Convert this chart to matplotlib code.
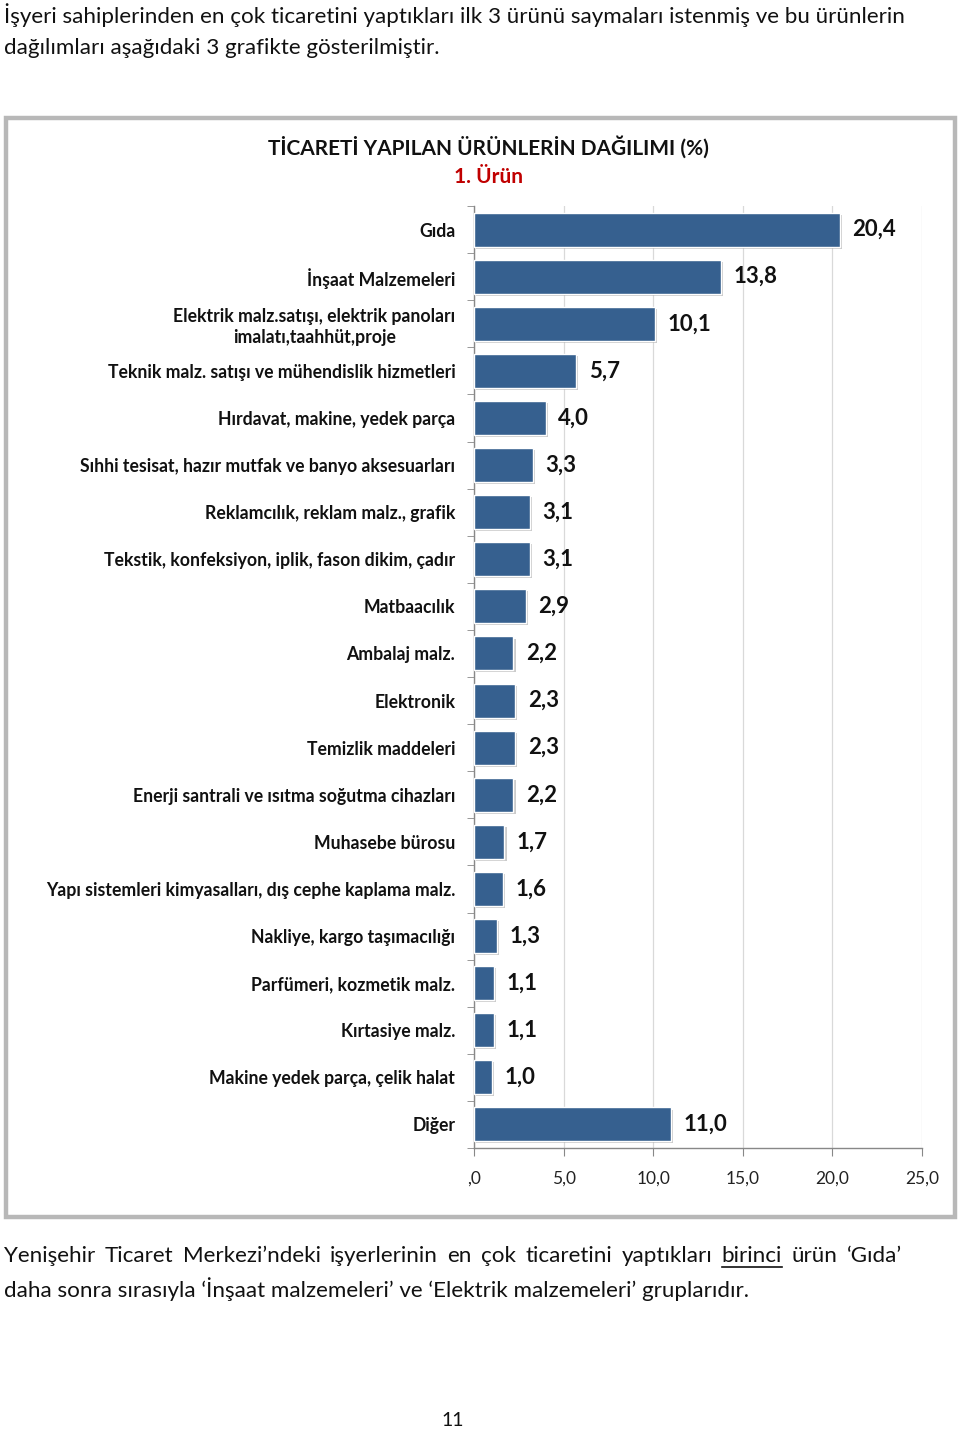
import matplotlib
matplotlib.use("Agg")
import matplotlib.pyplot as plt
from matplotlib.patches import Rectangle
import matplotlib.patheffects as pe
from matplotlib.ticker import FixedLocator

plt.rcParams['font.family'] = ['Lato', 'DejaVu Sans']

categories = [
    "Gıda",
    "İnşaat Malzemeleri",
    "Elektrik malz.satışı, elektrik panoları\nimalatı,taahhüt,proje",
    "Teknik malz. satışı ve mühendislik hizmetleri",
    "Hırdavat, makine, yedek parça",
    "Sıhhi tesisat, hazır mutfak ve banyo aksesuarları",
    "Reklamcılık, reklam malz., grafik",
    "Tekstik, konfeksiyon, iplik, fason dikim, çadır",
    "Matbaacılık",
    "Ambalaj malz.",
    "Elektronik",
    "Temizlik maddeleri",
    "Enerji santrali ve ısıtma soğutma cihazları",
    "Muhasebe bürosu",
    "Yapı sistemleri kimyasalları, dış cephe kaplama malz.",
    "Nakliye, kargo taşımacılığı",
    "Parfümeri, kozmetik malz.",
    "Kırtasiye malz.",
    "Makine yedek parça, çelik halat",
    "Diğer",
]
values = [20.4, 13.8, 10.1, 5.7, 4.0, 3.3, 3.1, 3.1, 2.9, 2.2, 2.3, 2.3, 2.2,
          1.7, 1.6, 1.3, 1.1, 1.1, 1.0, 11.0]
xticks = [0, 5, 10, 15, 20, 25]
xtick_labels = [",0", "5,0", "10,0", "15,0", "20,0", "25,0"]

title = "TİCARETİ YAPILAN ÜRÜNLERİN DAĞILIMI (%)"
subtitle = "1. Ürün"
intro = ["İşyeri sahiplerinden en çok ticaretini yaptıkları ilk 3 ürünü saymaları istenmiş ve bu ürünlerin",
         "dağılımları aşağıdaki 3 grafikte gösterilmiştir."]
outro1 = "Yenişehir Ticaret Merkezi’ndeki işyerlerinin en çok ticaretini yaptıkları birinci ürün ‘Gıda’"
outro2 = "daha sonra sırasıyla ‘İnşaat malzemeleri’ ve ‘Elektrik malzemeleri’ gruplarıdır."
page_no = "11"

W, H = 960, 1429
fig = plt.figure(figsize=(W / 100, H / 100), dpi=100)
fig.patch.set_facecolor('white')

def fx(x):
    return x / W

def fy(y):
    return 1 - y / H

# frame
fig.patches.append(Rectangle((fx(6), fy(1217)), fx(949), 1099 / H, transform=fig.transFigure,
                             facecolor='none', edgecolor='#b8b8b8', lw=3.2, zorder=0))

ax = fig.add_axes([fx(474), fy(1148), fx(922 - 474), (1148 - 206) / H])
ypos = list(range(len(categories)))
bars = ax.barh(ypos, values, height=0.72, color='#36608f', edgecolor='white', linewidth=1.0,
               zorder=3)
for b in bars:
    b.set_path_effects([pe.SimplePatchShadow(offset=(1.5, -1.5), shadow_rgbFace='#999999', alpha=0.5),
                        pe.Normal()])
ax.set_ylim(len(categories) - 0.5, -0.5)
ax.set_xlim(0, 25)
ax.set_xticks(xticks)
ax.set_xticklabels(xtick_labels, fontsize=12.5, color='#222222')
ax.set_yticks(ypos)
ax.set_yticklabels(categories, fontsize=12.7, fontweight='bold', color='#111111',
                   multialignment='center', linespacing=1.3)
ax.yaxis.set_minor_locator(FixedLocator([i + 0.5 for i in range(-1, len(categories))]))
ax.tick_params(axis='y', which='major', length=0, pad=13.5)
ax.tick_params(axis='y', which='minor', length=5, color='#888888', direction='out')
ax.tick_params(axis='x', which='major', length=6, color='#888888', direction='out', pad=10)
for s in ['top', 'right']:
    ax.spines[s].set_visible(False)
for s in ['left', 'bottom']:
    ax.spines[s].set_color('#888888')
    ax.spines[s].set_linewidth(1.0)
ax.grid(axis='x', color='#d9d9d9', lw=0.9, zorder=0)
ax.set_axisbelow(True)

for y, v in zip(ypos, values):
    ax.annotate(f"{v:.1f}".replace('.', ','), (v, y), xytext=(9, 0), textcoords='offset points',
                va='center', ha='left', fontsize=16, fontweight='bold', color='#111111')

fig.text(fx(488), fy(147), title, ha='center', va='center', fontsize=15, fontweight='bold',
         color='#111111')
fig.text(fx(488), fy(177), subtitle, ha='center', va='center', fontsize=15, fontweight='bold',
         color='#c00000')

for i, line in enumerate(intro):
    fig.text(fx(4), fy(15 + 33 * i), line, ha='left', va='center', fontsize=16.1, color='#111111')

# justified first outro line
fig.canvas.draw()
renderer = fig.canvas.get_renderer()
words = outro1.split(' ')
txts = []
for w in words:
    t = fig.text(0, 0, w, ha='left', va='center', fontsize=16.1, color='#111111')
    txts.append(t)
widths = [t.get_window_extent(renderer).width for t in txts]
x0, x1 = 4, 902
gap = (x1 - x0 - sum(widths)) / (len(words) - 1)
x = x0
for w, t, wd in zip(words, txts, widths):
    t.set_position((fx(x), fy(1256)))
    if w == 'birinci':
        fig.lines.append(plt.Line2D([fx(x), fx(x + wd)], [fy(1267), fy(1267)],
                                    transform=fig.transFigure, color='#111111', lw=1.2))
    x += wd + gap
fig.text(fx(4), fy(1289), outro2, ha='left', va='center', fontsize=16.1, color='#111111')
fig.text(fx(453), fy(1420), page_no, ha='center', va='center', fontsize=14, color='#111111')

fig.savefig('out.png', dpi=100, facecolor='white')
